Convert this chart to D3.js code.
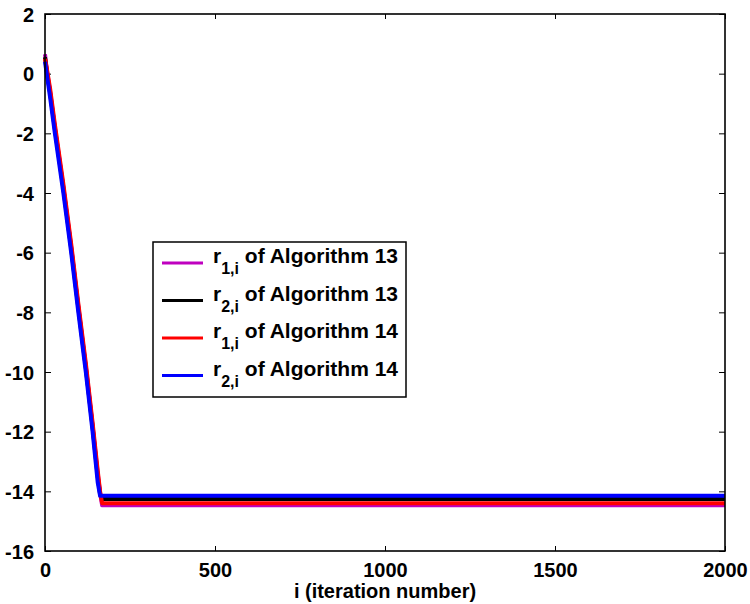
<!DOCTYPE html>
<meta charset="utf-8">
<style>
body { margin: 0; background: #fff; }
text { font-family: "Liberation Sans", Arial, sans-serif; font-weight: bold; }
.frame { fill: none; stroke: #000; stroke-width: 1.6; }
.series { fill: none; stroke-width: 4; stroke-linejoin: round; }
</style>
<svg id="chart" width="750" height="604"></svg>
<script src="https://cdn.jsdelivr.net/npm/d3@7"></script>
<script>
// iteration grid shared by all four curves
var iters = [0, 5, 15, 29, 54, 77, 98, 120, 140, 155, 162, 168, 2000];

var r1Alg13 = [0.65, 0.15, -0.6, -1.8, -3.8, -5.8, -7.8, -9.8, -11.8, -13.4, -14.05, -14.47, -14.47];
var r2Alg13 = [0.55, 0.1, -0.65, -1.85, -3.85, -5.85, -7.85, -9.85, -11.85, -13.5, -14.1, -14.26, -14.26];
var r1Alg14 = [0.5, 0.2, -0.5, -1.7, -3.7, -5.7, -7.7, -9.7, -11.7, -13.3, -14.0, -14.40, -14.40];
var r2Alg14 = [0.4, 0.0, -0.8, -2.0, -4.0, -6.0, -8.0, -10.0, -12.0, -13.7, -14.15, -14.15, -14.15];

var xTicks = [0, 500, 1000, 1500, 2000];
var yTicks = [2, 0, -2, -4, -6, -8, -10, -12, -14, -16];

var seriesNames = ["1,i", "2,i", "1,i", "2,i"];
var algNames = ["13", "13", "14", "14"];
var colors = ["#bf00bf", "#000000", "#ff0000", "#0000ff"];
var allSeries = [r1Alg13, r2Alg13, r1Alg14, r2Alg14];

var svg = d3.select("#chart");
var pLeft = 45, pRight = 725, pTop = 14, pBottom = 551;

var x = d3.scaleLinear().domain([0, 2000]).range([pLeft, pRight]);
var y = d3.scaleLinear().domain([-16, 2]).range([pBottom, pTop]);

// plain hyphen for negatives, like the original
var fmt = function(d) { return String(d); };

// ticks (inward) on all four sides
var axB = svg.append("g").attr("transform", "translate(0," + pBottom + ")")
  .call(d3.axisBottom(x).tickValues(xTicks).tickSize(-5).tickPadding(12).tickFormat(fmt));
var axT = svg.append("g").attr("transform", "translate(0," + pTop + ")")
  .call(d3.axisTop(x).tickValues(xTicks).tickSize(-5).tickFormat(""));
var axL = svg.append("g").attr("transform", "translate(" + pLeft + ",0)")
  .call(d3.axisLeft(y).tickValues(yTicks).tickSize(-6).tickPadding(11).tickFormat(fmt));
var axR = svg.append("g").attr("transform", "translate(" + pRight + ",0)")
  .call(d3.axisRight(y).tickValues(yTicks).tickSize(-6).tickFormat(""));

[axB, axT, axL, axR].forEach(function(a) {
  a.select(".domain").remove();
  a.selectAll(".tick line").attr("stroke", "#000").attr("stroke-width", 1);
  a.selectAll("text").attr("font-size", 20).attr("fill", "#000")
    .style("font-family", "'Liberation Sans', Arial, sans-serif").style("font-weight", "bold");
});
axL.selectAll("text").attr("dy", "0.36em");
axB.selectAll("text").attr("dy", "0.71em");

var line = d3.line()
  .x(function(d, i) { return x(iters[i]); })
  .y(function(d) { return y(d); });

svg.append("g").selectAll("path")
  .data(allSeries)
  .enter().append("path")
  .attr("class", "series")
  .attr("stroke", function(d, i) { return colors[i]; })
  .attr("d", line);

svg.append("rect").attr("class", "frame")
  .attr("x", pLeft).attr("y", pTop)
  .attr("width", pRight - pLeft).attr("height", pBottom - pTop);

svg.append("text")
  .attr("x", (pLeft + pRight) / 2).attr("y", 598)
  .attr("text-anchor", "middle").attr("font-size", 20)
  .text("i (iteration number)");

// legend
var lg = svg.append("g").attr("transform", "translate(153,242)");
lg.append("rect")
  .attr("width", 253).attr("height", 155)
  .attr("fill", "#fff").attr("stroke", "#000").attr("stroke-width", 1.5);

var item = lg.selectAll(".item")
  .data(seriesNames)
  .enter().append("g")
  .attr("class", "item")
  .attr("transform", function(d, i) { return "translate(0," + (21 + i * 37.5) + ")"; });

item.append("line")
  .attr("x1", 9).attr("x2", 50)
  .attr("stroke", function(d, i) { return colors[i]; })
  .attr("stroke-width", 3);

var t = item.append("text").attr("x", 60).attr("y", 0).attr("font-size", 21);
t.append("tspan").text("r");
t.append("tspan").attr("font-size", 16).attr("dy", 11).text(function(d) { return d; });
t.append("tspan").attr("dy", -11).text(function(d, i) { return " of Algorithm " + algNames[i]; });
</script>
